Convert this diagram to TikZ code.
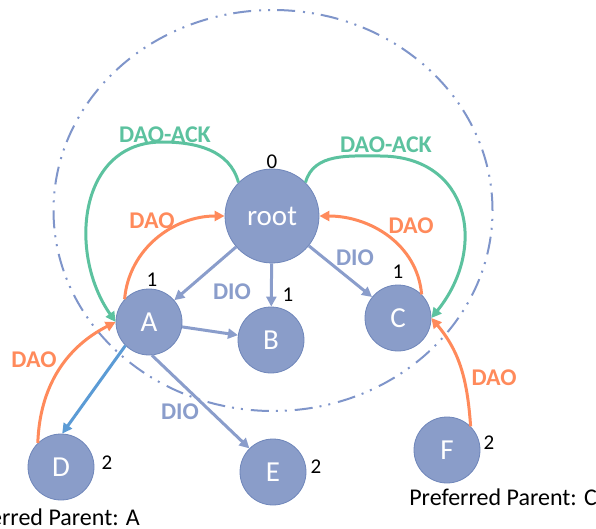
\documentclass[tikz,border=0pt]{standalone}
\usepackage{fontspec}
\setmainfont{Carlito}
\usetikzlibrary{arrows.meta}

\definecolor{nodefill}{HTML}{8A9DC9}
\definecolor{nodeedge}{HTML}{6F86BA}
\definecolor{dio}{HTML}{8A9DCB}
\definecolor{dao}{HTML}{FF8A5B}
\definecolor{ack}{HTML}{5CC29F}
\definecolor{link}{HTML}{5B9BD5}
\definecolor{ring}{HTML}{7F95CA}

\begin{document}
\begin{tikzpicture}[x=1pt,y=-1pt,
  mote/.style={circle, fill=nodefill, draw=nodeedge, line width=0.8pt,
    minimum size=66pt, inner sep=0pt, text=white,
    font=\fontsize{29}{32}\selectfont},
  rootmote/.style={mote, minimum size=94pt},
  rank/.style={font=\fontsize{21}{24}\selectfont, text=black, inner sep=0pt},
  msg/.style={font=\fontsize{24}{28}\selectfont\bfseries, inner sep=0pt},
  note/.style={font=\fontsize{24}{28}\selectfont, inner sep=0pt},
  flow/.style={line width=3pt, -{Triangle[length=10pt,width=10pt]}},
  dioarrow/.style={flow, draw=dio},
  daoarrow/.style={flow, draw=dao},
  ackarrow/.style={flow, draw=ack},
  linkarrow/.style={flow, draw=link},
  ringline/.style={draw=ring, line width=2pt,
    dash pattern=on 18pt off 7pt on 2pt off 7pt on 2pt off 8pt}
]
\clip (0,0) rectangle (596,529);

% DODAG boundary
\draw[ringline] (273,210.5) ellipse [x radius=219.5pt, y radius=200.5pt];

% nodes
\node[rootmote] (root) at (272,216) {root};
\node[mote] (A) at (149,322) {A};
\node[mote] (B) at (271,340) {B};
\node[mote] (C) at (398,318) {C};
\node[mote] (D) at (61,467) {D};
\node[mote] (E) at (273,472) {E};
\node[mote] (F) at (447,450) {F};

% ranks
\node[rank] (r0) at (272,162) {0};
\node[rank] (rA) at (152,280) {1};
\node[rank] (rB) at (288,295) {1};
\node[rank] (rC) at (398,272) {1};
\node[rank] (rD) at (107,463) {2};
\node[rank] (rE) at (316,467) {2};
\node[rank] (rF) at (489,443) {2};

% DIO propagation
\draw[dioarrow] (root) -- (A);
\draw[dioarrow] (root) -- (B);
\draw[dioarrow] (root) -- (C);
\draw[dioarrow] (A) -- (B);
\draw[dioarrow] (A.-85) -- (E.135);
\draw[linkarrow] (A.225) -- (D.88);

% DAO towards the root
\draw[daoarrow] (A.137) to[out=85,in=180] (root.west);
\draw[daoarrow] (C.45) to[out=95,in=0] (root.east);
\draw[daoarrow] (D.134) to[out=88,in=207] (A.west);
\draw[daoarrow] (F.45) to[out=94,in=-50] (C.east);

% DAO-ACK back down
\coordinate (ackL) at (162,142);
\coordinate (ackR) at (380,156);
\draw[ackarrow] (root.135) to[out=105,in=0] (ackL)
  to[out=180,in=125,looseness=1.15] (A.west);
\draw[ackarrow] (root.45) to[out=75,in=180] (ackR)
  to[out=0,in=51,looseness=1.35] (C.east);

% message labels
\node[msg, text=ack] (lackL) at (165,135) {DAO-ACK};
\node[msg, text=ack] (lackR) at (386,145) {DAO-ACK};
\node[msg, text=dao] (ldaoA) at (152,221) {DAO};
\node[msg, text=dao] (ldaoC) at (411,226) {DAO};
\node[msg, text=dao] (ldaoD) at (34,360) {DAO};
\node[msg, text=dao] (ldaoF) at (494,378) {DAO};
\node[msg, text=dio] (ldioA) at (232,292) {DIO};
\node[msg, text=dio] (ldioC) at (355,258) {DIO};
\node[msg, text=dio] (ldioE) at (180,412) {DIO};

% notes
\node[note, anchor=base east] (ppA) at (140,525) {Preferred Parent: A};
\node[note, anchor=base east] (ppC) at (597,505) {Preferred Parent: C};
\end{tikzpicture}
\end{document}
